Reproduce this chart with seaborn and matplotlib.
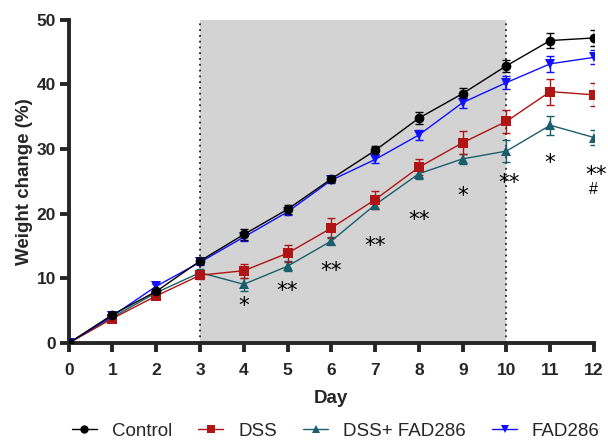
import numpy as np
import pandas as pd
import matplotlib
matplotlib.use("Agg")
import matplotlib.pyplot as plt
import matplotlib.transforms as mtransforms
import seaborn as sns
from matplotlib.lines import Line2D

days = list(range(13))
groups = ["Control", "DSS", "DSS+ FAD286", "FAD286"]
control = [0, 4.4, 8.0, 12.7, 16.8, 20.7, 25.4, 29.8, 34.8, 38.6, 42.9, 46.8, 47.2]
control_err = [0.2, 0.4, 0.4, 0.4, 0.8, 0.7, 0.5, 0.7, 0.9, 0.9, 0.9, 1.1, 1.2]
dss = [0, 3.8, 7.3, 10.5, 11.2, 13.9, 17.8, 22.2, 27.2, 31.0, 34.3, 38.9, 38.4]
dss_err = [0.2, 0.4, 0.4, 0.6, 1.1, 1.3, 1.5, 1.4, 1.2, 1.8, 1.8, 2.0, 1.8]
combo = [0, 4.0, 7.8, 10.9, 9.1, 11.9, 15.8, 21.4, 26.2, 28.5, 29.7, 33.7, 31.8]
combo_err = [0.2, 0.3, 0.4, 0.5, 1.0, 0.8, 0.6, 0.7, 0.8, 0.8, 1.7, 1.5, 1.1]
fad = [0, 4.2, 8.8, 12.5, 16.4, 20.3, 25.2, 28.4, 32.2, 37.2, 40.3, 43.2, 44.2]
fad_err = [0.2, 0.3, 0.4, 0.4, 0.6, 0.5, 0.5, 0.6, 0.8, 0.9, 1.0, 1.2, 1.1]

sig_days = [4, 5, 6, 7, 8, 9, 10.07, 11, 12.04]
sig_text = ["*", "**", "**", "**", "**", "*", "**", "*", "**"]
sig_y = [6.7, 9.1, 12.2, 16.0, 20.0, 23.8, 25.7, 28.8, 27.0]
hash_day = 11.88
hash_y = 23.8

colors = {"Control": "#000000", "DSS": "#b01414", "DSS+ FAD286": "#1b5e6b", "FAD286": "#1010ff"}
markers = {"Control": "o", "DSS": "s", "DSS+ FAD286": "^", "FAD286": "v"}

vals = [control, dss, combo, fad]
errs = [control_err, dss_err, combo_err, fad_err]
df = pd.concat([pd.DataFrame({"Day": days, "Weight": v, "err": e, "Group": g})
                for g, v, e in zip(groups, vals, errs)], ignore_index=True)

sns.set_style("ticks")
plt.rcParams['font.family'] = ['Liberation Sans', 'DejaVu Sans']

fig = plt.figure(figsize=(6.08, 4.41), dpi=100)
ax = fig.add_axes([0.113, 0.222, 0.864, 0.733])

ax.axvspan(3, 10, color="#d3d3d3", zorder=0, lw=0)
for xv in (3, 10):
    ax.axvline(xv, color="#222222", ls=(0, (1, 2.2)), lw=1.3, zorder=1)

draw_order = ["DSS+ FAD286", "DSS", "FAD286", "Control"]
for g in draw_order:
    sub = df[df.Group == g]
    ax.errorbar(sub.Day, sub.Weight, yerr=sub.err, fmt="none", ecolor=colors[g],
                elinewidth=1.0, capsize=3, capthick=1.0, zorder=3)
sns.lineplot(data=df, x="Day", y="Weight", hue="Group", style="Group",
             hue_order=draw_order, style_order=draw_order,
             palette=colors, markers=markers, dashes=False, markersize=7,
             markeredgewidth=0, linewidth=1.0, ax=ax, zorder=4, legend=False)

# star glyph sits high in the em box: shift baseline down by ~12 px
star_shift = mtransforms.offset_copy(ax.transData, fig=fig, x=0, y=-12.5, units="dots")
for xd, t, yv in zip(sig_days, sig_text, sig_y):
    ax.text(xd, yv, t, ha="center", va="baseline", fontsize=15.5, color="black",
            family="DejaVu Sans", transform=star_shift, clip_on=False)
hash_shift = mtransforms.offset_copy(ax.transData, fig=fig, x=0, y=-4.5, units="dots")
ax.text(hash_day, hash_y, "#", ha="left", va="baseline", fontsize=11.5, color="black",
        transform=hash_shift, clip_on=False)

ax.set_xlim(0, 12)
ax.set_ylim(0, 50)
ax.set_xticks(days)
ax.set_yticks(range(0, 51, 10))
ax.spines["top"].set_visible(False)
ax.spines["right"].set_visible(False)
for s in ("left", "bottom"):
    ax.spines[s].set_linewidth(2.8)
    ax.spines[s].set_clip_on(False)
ax.tick_params(width=2.8, length=6.5, labelsize=12.5)
ax.tick_params(axis="x", pad=7.5)
ax.tick_params(axis="y", pad=2.5)
for lab in ax.get_xticklabels() + ax.get_yticklabels():
    lab.set_fontweight("bold")
ax.set_xlabel("Day", fontsize=13.5, fontweight="bold", labelpad=9)
ax.set_ylabel("Weight change (%)", fontsize=13.5, fontweight="bold", labelpad=3)

handles = [Line2D([], [], color=colors[g], marker=markers[g], markersize=6,
                  markeredgewidth=0, lw=1.0) for g in groups]
fig.legend(handles, groups, loc="center left", bbox_to_anchor=(0.118, 0.022), ncol=4,
           frameon=False, fontsize=13.5, handlelength=1.33, columnspacing=1.4,
           handletextpad=0.8, borderpad=0.0, borderaxespad=0.0)

fig.savefig("out.png", dpi=100)
